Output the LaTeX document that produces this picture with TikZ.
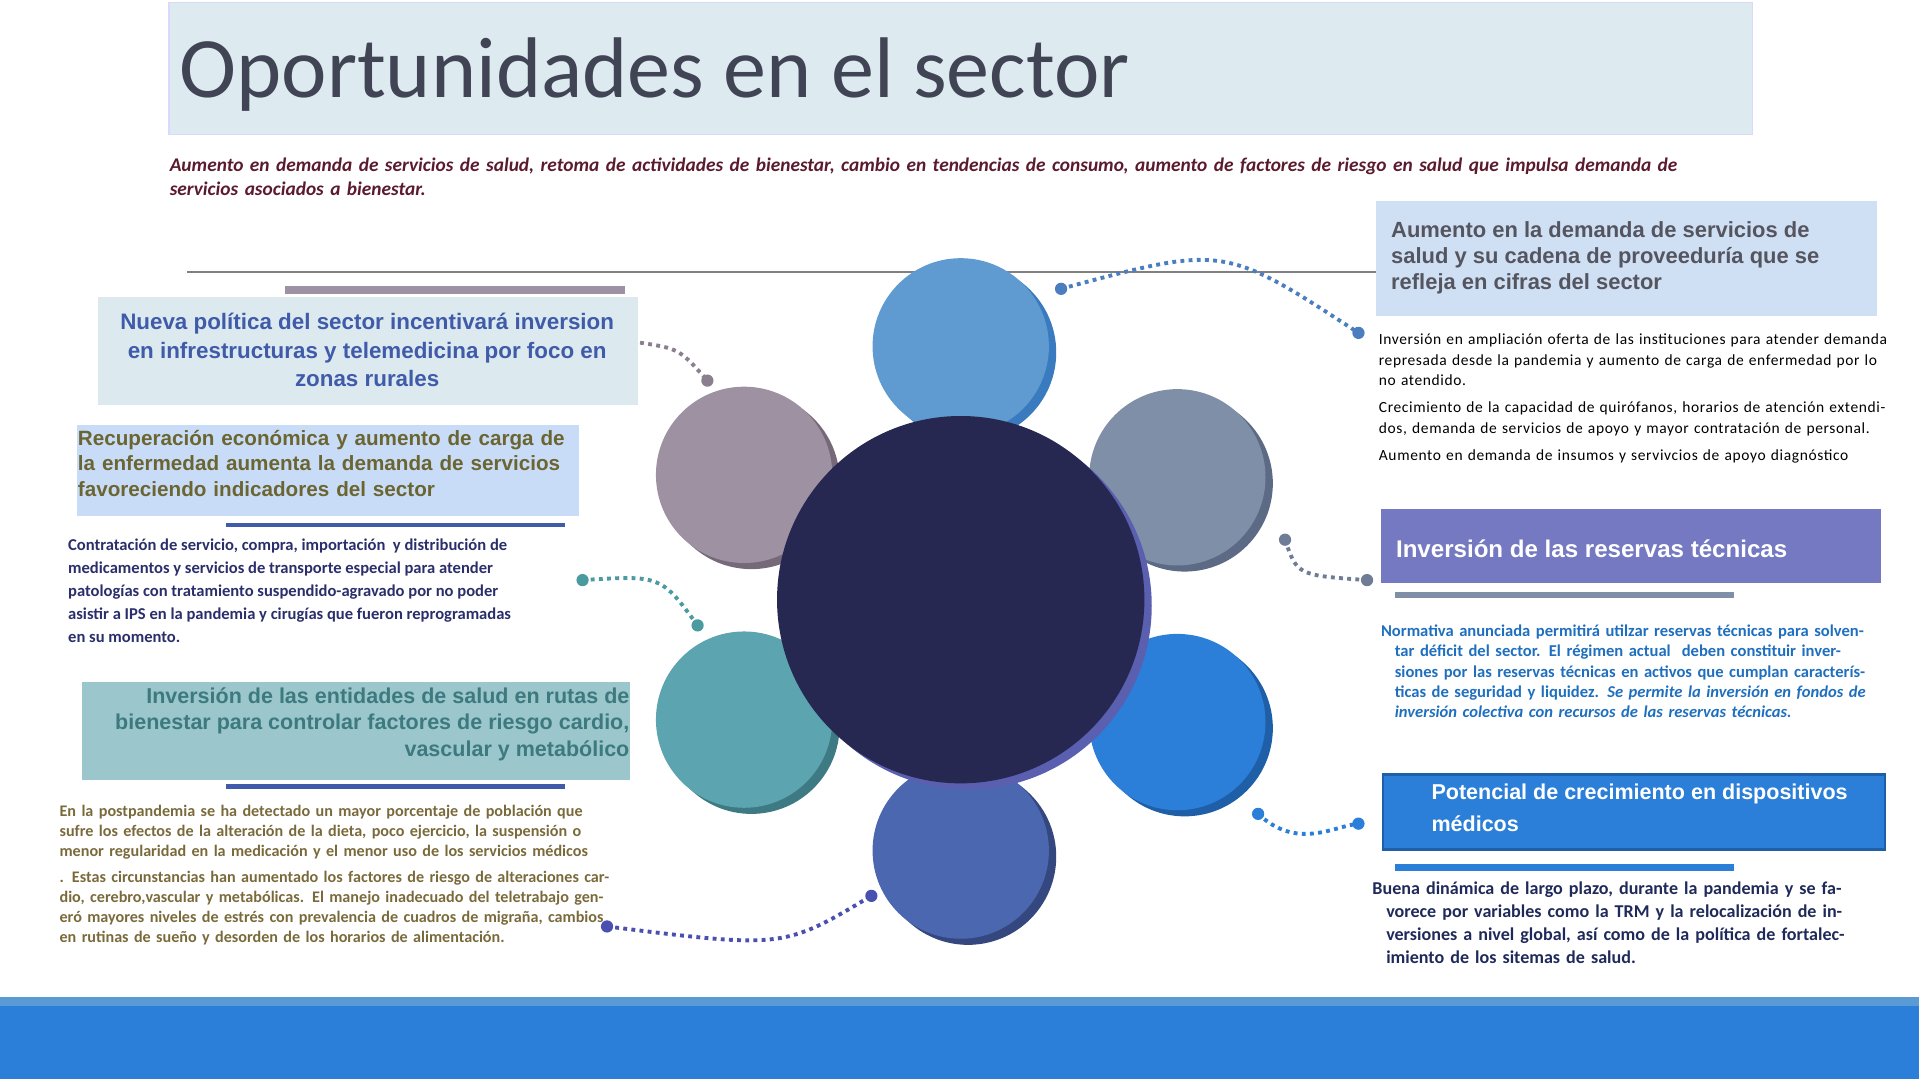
\documentclass[tikz,border=0pt]{standalone}
\usepackage{fontspec}
\setmainfont{Carlito}
\newfontfamily\arialf{Liberation Sans}
\newfontfamily\spaced[LetterSpace=4]{Carlito}
\usetikzlibrary{calc}
\definecolor{ttl}{HTML}{404454}
\definecolor{sub}{HTML}{5B1A2E}
\definecolor{bandb}{HTML}{2B7FD8}
\definecolor{navy}{HTML}{262851}
\tikzset{
 x=0.01cm,y=-0.01cm,
 circ/.style={circle,minimum size=1.44cm,inner sep=0},
 body/.style={anchor=north west,inner sep=0,align=left},
 head/.style={font=\arialf\bfseries\fontsize{5}{6.4}\selectfont,inner sep=0},
 conn/.style={densely dotted,line width=0.9pt},
 dotn/.style={circle,fill,inner sep=0,minimum size=0.1cm},
}
\begin{document}
\begin{tikzpicture}
\useasboundingbox (0,0) rectangle (1568,882);
% title
\draw[draw=blue!15,fill={rgb,255:red,221;green,235;blue,240}] (138,2) rectangle (1432,110);
\node[anchor=base west,inner sep=0,text=ttl,font=\fontsize{20}{24}\selectfont] (title) at (146,80) {Oportunidades en el sector};
\node[body,text=sub,text width=12.4cm,font=\bfseries\itshape\fontsize{4.5}{5.6}\selectfont] (sub) at (138,128) {Aumento en demanda de servicios de salud, retoma de actividades de bienestar, cambio en tendencias de consumo, aumento de factores de riesgo en salud que impulsa demanda de servicios asociados a bienestar.};
\draw[gray,line width=0.5pt] (153,222) -- (1125,222);
% circles
\foreach \n/\x/\y/\c/\s in {ct/785/283/5F9BD1/3A7BBF, cur/962/390/7F8FA8/5C6A85, clr/962/590/2B7FD8/1E5FA8, cb/785/695/4A67B0/34487F, cll/608/588/5BA4B0/3E7A83, cul/608/388/9E91A2/766A7A}{
 \definecolor{cc}{HTML}{\c}\definecolor{cs}{HTML}{\s}
 \node[circ,fill=cs] at (\x+6,\y+5) {};
 \node[circ,fill=cc] (\n) at (\x,\y) {};
}
\node[circle,minimum size=3.0cm,inner sep=0,fill={rgb,255:red,90;green,95;blue,176}] at (791,495) {};
\node[circle,minimum size=3.0cm,inner sep=0,fill=navy] (big) at (785,490) {};
% connectors
\coordinate (p1a) at (867,236); \coordinate (p1b) at (1110,272);
\coordinate (p2a) at (523,280); \coordinate (p2b) at (578,311);
\coordinate (p3a) at (476,474); \coordinate (p3b) at (570,511);
\coordinate (p4a) at (1050,441); \coordinate (p4b) at (1117,474);
\coordinate (p5a) at (1028,665); \coordinate (p5b) at (1110,673);
\coordinate (p6a) at (496,757); \coordinate (p6b) at (712,732);
\definecolor{k1}{HTML}{4A7EBF}\definecolor{k2}{HTML}{8A7F8F}\definecolor{k3}{HTML}{4A9AA0}
\definecolor{k4}{HTML}{6F7C95}\definecolor{k5}{HTML}{2B7FD8}\definecolor{k6}{HTML}{4A50B0}
\draw[conn,k1] (p1a) .. controls (1000,200) .. (p1b);
\draw[conn,k2] (p2a) .. controls (555,285) .. (p2b);
\draw[conn,k3] (p3a) .. controls (540,470) .. (p3b);
\draw[conn,k4] (p4a) .. controls (1060,470) .. (p4b);
\draw[conn,k5] (p5a) .. controls (1060,695) and (1090,675) .. (p5b);
\draw[conn,k6] (p6a) .. controls (640,775) .. (p6b);
\foreach \p/\c in {p1a/k1,p1b/k1,p2b/k2,p3a/k3,p3b/k3,p4a/k4,p4b/k4,p5a/k5,p5b/k5,p6a/k6,p6b/k6}{\node[dotn,fill=\c] at (\p) {};}
% left boxes
\fill[fill={rgb,255:red,158;green,145;blue,162}] (233,234) rectangle (511,240);
\fill[fill={rgb,255:red,220;green,233;blue,239}] (80,243) rectangle (521,331);
\node[head,text={rgb,255:red,63;green,91;blue,169},align=center,font=\arialf\bfseries\fontsize{5.2}{6.6}\selectfont] (A) at (300,286) {Nueva política del sector incentivará inversion\\en infrestructuras y telemedicina por foco en\\zonas rurales};
\fill[fill={rgb,255:red,201;green,220;blue,247}] (63,347) rectangle (473,422);
\node[head,anchor=north west,text={rgb,255:red,107;green,101;blue,50},align=left,text width=4.15cm,font=\arialf\bfseries\fontsize{4.8}{5.9}\selectfont] (B) at (63,351) {Recuperación económica y aumento de carga de la enfermedad aumenta la demanda de servicios favoreciendo indicadores del sector};
\fill[fill={rgb,255:red,63;green,91;blue,169}] (185,427) rectangle (462,431);
\node[body,text={rgb,255:red,42;green,47;blue,107},font=\bfseries\fontsize{3.85}{5.3}\selectfont] (C) at (55,440) {Contratación de servicio, compra, importación~ y distribución de\\medicamentos y servicios de transporte especial para atender\\patologías con tratamiento suspendido-agravado por no poder\\asistir a IPS en la pandemia y cirugías que fueron reprogramadas\\en su momento.};
\fill[fill={rgb,255:red,155;green,199;blue,204}] (67,557) rectangle (515,637);
\node[head,anchor=north east,text={rgb,255:red,61;green,122;blue,128},align=right,font=\arialf\bfseries\fontsize{5}{6.2}\selectfont] (D) at (515,561) {Inversión de las entidades de salud en rutas de\\bienestar para controlar factores de riesgo cardio,\\vascular y metabólico};
\fill[fill={rgb,255:red,63;green,91;blue,169}] (185,641) rectangle (462,645);
\node[body,text={rgb,255:red,122;green,106;blue,59},text width=4.55cm,font=\bfseries\fontsize{3.75}{4.7}\selectfont] (E) at (48,657) {En la postpandemia se ha detectado un mayor porcentaje de población que sufre los efectos de la alteración de la dieta, poco ejercicio, la suspensión o menor regularidad en la medicación y el menor uso de los servicios médicos\par\vspace{1.2pt}. Estas circunstancias han aumentado los factores de riesgo de alteraciones cardio, cerebro,vascular y metabólicas. El manejo inadecuado del teletrabajo generó mayores niveles de estrés con prevalencia de cuadros de migraña, cambios en rutinas de sueño y desorden de los horarios de alimentación.};
% right boxes
\fill[fill={rgb,255:red,207;green,224;blue,245}] (1124,164) rectangle (1534,258);
\node[head,anchor=north west,text={rgb,255:red,85;green,85;blue,95},align=left,font=\arialf\bfseries\fontsize{5.1}{6.1}\selectfont] (F) at (1136,180) {Aumento en la demanda de servicios de\\salud y su cadena de proveeduría que se\\refleja en cifras del sector};
\node[body,text=black,text width=4.2cm,font=\spaced\fontsize{3.6}{4.8}\selectfont] (G) at (1126,272) {Inversión en ampliación oferta de las instituciones para atender demanda represada desde la pandemia y aumento de carga de enfermedad por lo no atendido.\par\vspace{1.5pt}Crecimiento de la capacidad de quirófanos, horarios de atención extendidos, demanda de servicios de apoyo y mayor contratación de personal.\par\vspace{1.5pt}Aumento en demanda de insumos y servivcios de apoyo diagnóstico};
\fill[fill={rgb,255:red,117;green,121;blue,194}] (1128,416) rectangle (1537,476);
\node[head,anchor=west,text=white,font=\arialf\bfseries\fontsize{5.6}{6.6}\selectfont] (H) at (1140,448) {Inversión de las reservas técnicas};
\fill[fill={rgb,255:red,127;green,143;blue,168}] (1140,484) rectangle (1417,489);
\node[body,text={rgb,255:red,31;green,111;blue,191},text width=3.9cm,font=\bfseries\fontsize{3.85}{4.7}\selectfont] (I) at (1139,510) {\leftskip=3.2pt\hskip-3.2pt Normativa anunciada permitirá utilzar reservas técnicas para solventar déficit del sector. El régimen actual~ deben constituir inversiones por las reservas técnicas en activos que cumplan características de seguridad y liquidez. \textit{Se permite la inversión en fondos de inversión colectiva con recursos de las reservas técnicas.}};
\fill[fill={rgb,255:red,30;green,95;blue,168}] (1129,632) rectangle (1541,695);
\fill[bandb] (1131,634) rectangle (1539,693);
\node[head,anchor=north west,text=white,align=left,font=\arialf\bfseries\fontsize{5}{7.4}\selectfont] (J) at (1169,640) {Potencial de crecimiento en dispositivos\\médicos};
\fill[bandb] (1140,706) rectangle (1417,712);
\node[body,text={rgb,255:red,31;green,42;blue,90},text width=3.9cm,font=\bfseries\fontsize{4.2}{5.3}\selectfont] (K) at (1132,720) {\leftskip=3.2pt\hskip-3.2pt Buena dinámica de largo plazo, durante la pandemia y se favorece por variables como la TRM y la relocalización de inversiones a nivel global, así como de la política de fortalecimiento de los sitemas de salud.};
% band
\fill[bandb] (0,815) rectangle (1568,882);
\fill[fill={rgb,255:red,91;green,155;blue,213}] (0,815) rectangle (1568,822);
\end{tikzpicture}
\end{document}
